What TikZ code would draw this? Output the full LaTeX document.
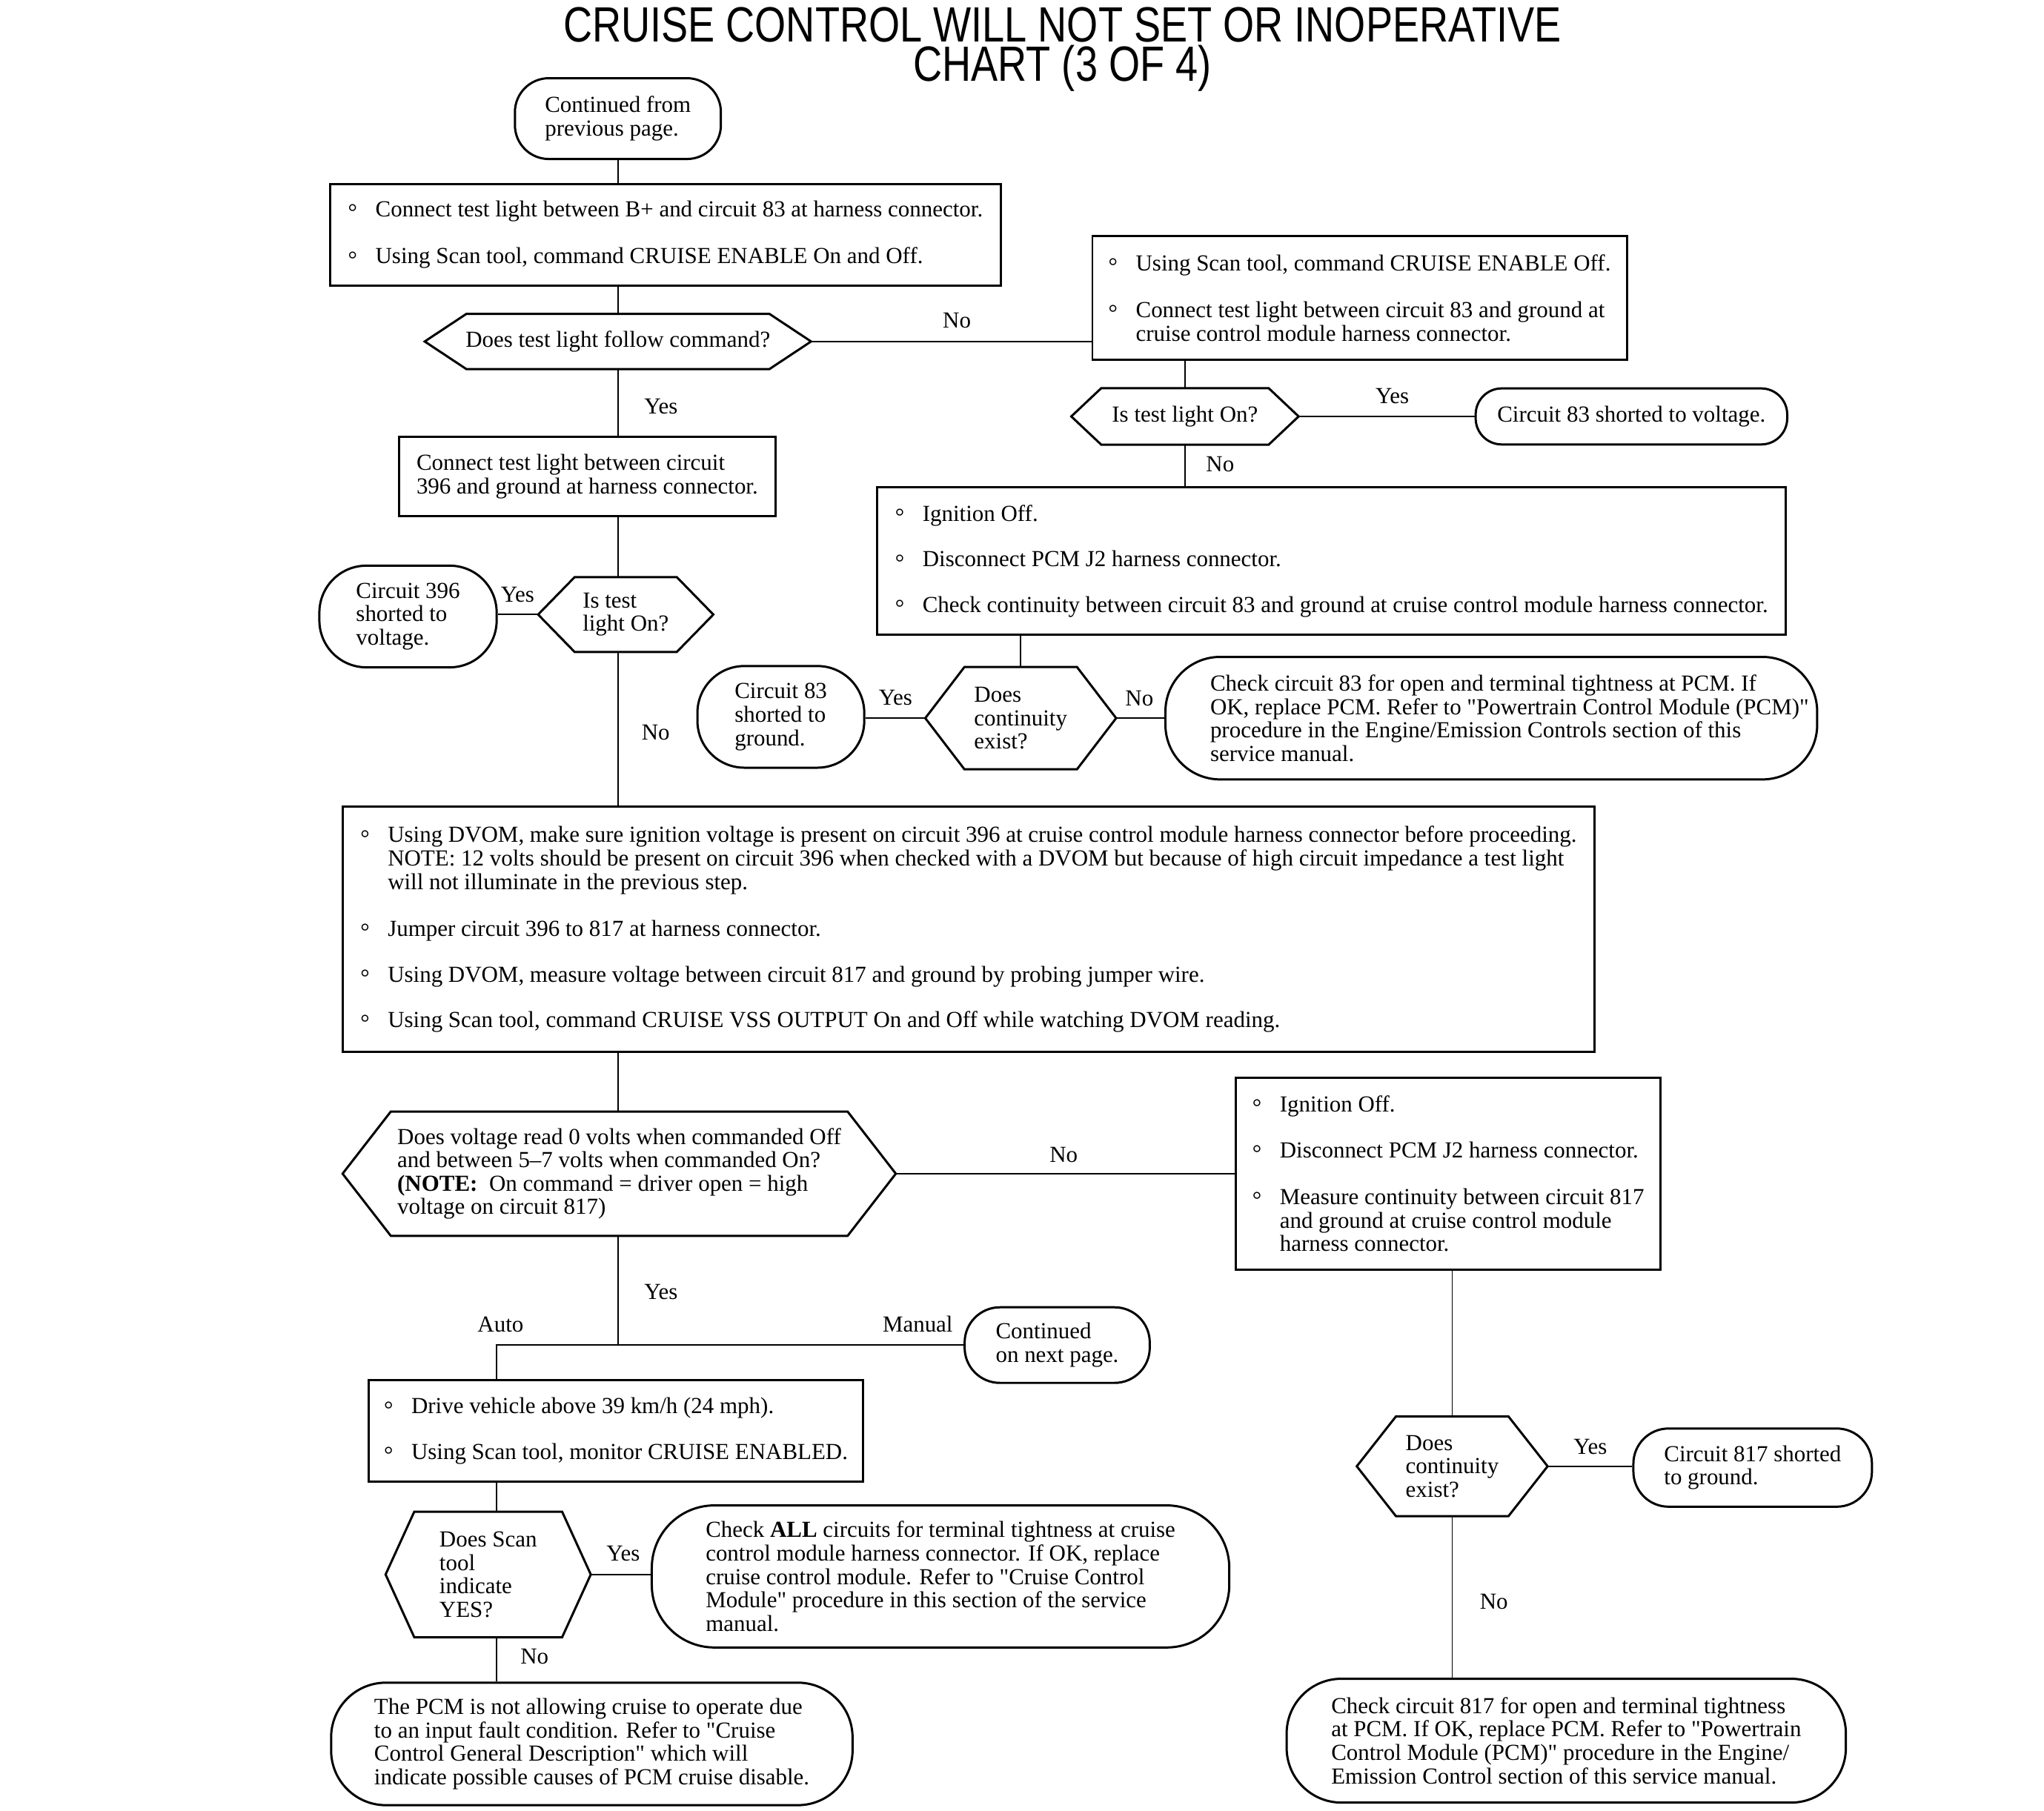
\documentclass[tikz,border=0pt]{standalone}
\usepackage{fontspec}
\setmainfont{Liberation Serif}[Ligatures=TeXOff]
\newfontfamily\titlefont{Liberation Sans}[FakeStretch=0.81]
\newcommand\bl{\makebox[21pt][l]{\raisebox{-2.5pt}{°}}}
\newcommand\ind{\hspace*{21pt}}
\newcommand\pad{\hspace*{28pt}}
\newcommand\hexdraw[2]{\draw[shapeline] ([xshift=#2]#1.north west) -- ([xshift=-#2]#1.north east) -- (#1.east) -- ([xshift=-#2]#1.south east) -- ([xshift=#2]#1.south west) -- (#1.west) -- cycle;}
\begin{document}
\begin{tikzpicture}[x=1pt,y=-1pt,
  every node/.style={font=\fontsize{17.6pt}{18pt}\selectfont, inner sep=0pt},
  shapeline/.style={line width=1.7pt, line join=miter},
  conn/.style={line width=1.1pt},
  sz/.style 2 args={minimum width=#1pt, minimum height=#2pt},
  box/.style={draw, shapeline, align=left},
  term/.style={draw, shapeline, align=left, rounded corners=#1pt},
  hexa/.style={align=left},
  ttl/.style={font=\titlefont\fontsize{38pt}{38pt}\selectfont, anchor=base},
  lbl/.style={}]
\fill[white] (0,0) rectangle (1568,1389);
\useasboundingbox (0,0) rectangle (1568,1389);

\node[ttl] (title1) at (815,32) {CRUISE CONTROL WILL NOT SET OR INOPERATIVE};
\node[ttl] (title2) at (815,62) {CHART (3 OF 4)};

\node[term=26, sz={158}{62}] (A) at (474,91) {Continued from\\previous page.};
\node[box, sz={515}{78}] (b1) at (510.5,180) {\bl Connect test light between B+ and circuit 83 at harness connector.\\[18pt]\bl Using Scan tool, command CRUISE ENABLE On and Off.};
\node[hexa, sz={296}{42}] (d1) at (474,262) {Does test light follow command?}; \hexdraw{d1}{32pt}
\node[box, sz={410}{95}] (b2) at (1043,228.5) {\bl Using Scan tool, command CRUISE ENABLE Off.\\[18pt]\bl Connect test light between circuit 83 and ground at\\\ind cruise control module harness connector.};
\node[hexa, sz={174}{43}] (d2) at (909,319.5) {Is test light On?}; \hexdraw{d2}{23pt}
\node[term=20, sz={239}{43}] (t83v) at (1251.5,319.5) {Circuit 83 shorted to voltage.};
\node[box, sz={697}{113}] (b3) at (1021.5,430.5) {\bl Ignition Off.\\[17pt]\bl Disconnect PCM J2 harness connector.\\[17pt]\bl Check continuity between circuit 83 and ground at cruise control module harness connector.};
\node[hexa, sz={146}{78}] (d3) at (783,551) {Does\\continuity\\exist?}; \hexdraw{d3}{30pt}
\node[term=36, sz={128}{78}] (t83g) at (599,550) {Circuit 83\\shorted to\\ground.};
\node[term=42, sz={500}{94}] (t83o) at (1144,551) {\pad Check circuit 83 for open and terminal tightness at PCM. If\\\pad OK, replace PCM. Refer to "Powertrain Control Module (PCM)"\\\pad procedure in the Engine/Emission Controls section of this\\\pad service manual.};
\node[box, sz={289}{61}] (b4) at (450.5,365.5) {Connect test light between circuit\\396 and ground at harness connector.};
\node[hexa, sz={134}{57}] (d4) at (480,471.5) {Is test\\light On?}; \hexdraw{d4}{28pt}
\node[term=36, sz={136}{78}] (t396) at (313,473) {Circuit 396\\shorted to\\voltage.};
\node[box, sz={960}{188}] (b5) at (743,713) {\bl Using DVOM, make sure ignition voltage is present on circuit 396 at cruise control module harness connector before proceeding.\\\ind NOTE: 12 volts should be present on circuit 396 when checked with a DVOM but because of high circuit impedance a test light\\\ind will not illuminate in the previous step.\\[18pt]\bl Jumper circuit 396 to 817 at harness connector.\\[17pt]\bl Using DVOM, measure voltage between circuit 817 and ground by probing jumper wire.\\[17pt]\bl Using Scan tool, command CRUISE VSS OUTPUT On and Off while watching DVOM reading.};
\node[hexa, sz={424}{95}] (d5) at (475,900.5) {Does voltage read 0 volts when commanded Off\\and between 5–7 volts when commanded On?\\\textbf{(NOTE:}\ \ On command = driver open = high\\voltage on circuit 817)}; \hexdraw{d5}{37pt}
\node[box, sz={326}{147}] (b6) at (1111,900.5) {\bl Ignition Off.\\[17pt]\bl Disconnect PCM J2 harness connector.\\[18pt]\bl Measure continuity between circuit 817\\\ind and ground at cruise control module\\\ind harness connector.};
\node[hexa, sz={146}{76}] (d6) at (1114,1125) {Does\\continuity\\exist?}; \hexdraw{d6}{30pt}
\node[term=27, sz={183}{60}] (t817) at (1344.5,1126) {Circuit 817 shorted\\to ground.};
\node[term=42, sz={429}{95}] (t817o) at (1201.5,1335.5) {Check circuit 817 for open and terminal tightness\\at PCM. If OK, replace PCM. Refer to "Powertrain\\Control Module (PCM)" procedure in the Engine/\\Emission Control section of this service manual.};
\node[term=27, sz={142}{58}] (cont) at (811,1032) {Continued\\on next page.};
\node[box, sz={379}{78}] (b7) at (472.5,1098) {\bl Drive vehicle above 39 km/h (24 mph).\\[17pt]\bl Using Scan tool, monitor CRUISE ENABLED.};
\node[hexa, sz={157}{96}] (d7) at (374.5,1208) {Does Scan\\tool\\indicate\\YES?}; \hexdraw{d7}{22pt}
\node[term=48, sz={443}{109}] (tall) at (721.5,1209.5) {Check \textbf{ALL} circuits for terminal tightness at cruise\\control module harness connector. If OK, replace\\cruise control module. Refer to "Cruise Control\\Module" procedure in this section of the service\\manual.};
\node[term=42, sz={400}{94}] (tpcm) at (454,1338) {The PCM is not allowing cruise to operate due\\to an input fault condition. Refer to "Cruise\\Control General Description" which will\\indicate possible causes of PCM cruise disable.};

\coordinate (x474) at (474,0);
\coordinate (j) at (474,1032);
\coordinate (jl) at (381,1032);

\draw[conn] (A.south) -- (A.south |- b1.north);
\draw[conn] (b1.south -| A.south) -- (d1.north);
\draw[conn] (d1.east) -- (d1.east -| b2.west);
\draw[conn] (b2.south -| d2.north) -- (d2.north);
\draw[conn] (d2.east) -- (t83v.west);
\draw[conn] (d2.south) -- (d2.south |- b3.north);
\draw[conn] (b3.south -| d3.north) -- (d3.north);
\draw[conn] (d3.west) -- (d3.west -| t83g.east);
\draw[conn] (d3.east) -- (d3.east -| t83o.west);
\draw[conn] (d1.south) -- (d1.south |- b4.north);
\draw[conn] (b4.south -| x474) -- (d4.north -| x474);
\draw[conn] (d4.west) -- (d4.west -| t396.east);
\draw[conn] (d4.south -| x474) -- (b5.north -| x474);
\draw[conn] (b5.south -| x474) -- (d5.north -| x474);
\draw[conn] (d5.east) -- (d5.east -| b6.west);
\draw[conn] (b6.south -| d6.north) -- (d6.north);
\draw[conn] (d6.east) -- (d6.east -| t817.west);
\draw[conn] (d6.south) -- (d6.south |- t817o.north);
\draw[conn] (d5.south -| x474) -- (j);
\draw[conn] (cont.west) -- (jl) -- (jl |- b7.north);
\draw[conn] (b7.south -| jl) -- (d7.north -| jl);
\draw[conn] (d7.east) -- (d7.east -| tall.west);
\draw[conn] (d7.south -| jl) -- (tpcm.north -| jl);

\node[lbl] (l1) at (734,246) {No};
\node[lbl] (l2) at (1068,304) {Yes};
\node[lbl] (l3) at (936,356) {No};
\node[lbl] (l4) at (687,535) {Yes};
\node[lbl] (l5) at (874,536) {No};
\node[lbl] (l6) at (507,312) {Yes};
\node[lbl] (l7) at (397,456) {Yes};
\node[lbl] (l8) at (503,562) {No};
\node[lbl] (l9) at (816,886) {No};
\node[lbl] (l10) at (1220,1110) {Yes};
\node[lbl] (l11) at (1146,1229) {No};
\node[lbl] (l12) at (507,991) {Yes};
\node[lbl] (l13) at (384,1016) {Auto};
\node[lbl] (l14) at (704,1016) {Manual};
\node[lbl] (l15) at (478,1192) {Yes};
\node[lbl] (l16) at (410,1271) {No};
\end{tikzpicture}
\end{document}
